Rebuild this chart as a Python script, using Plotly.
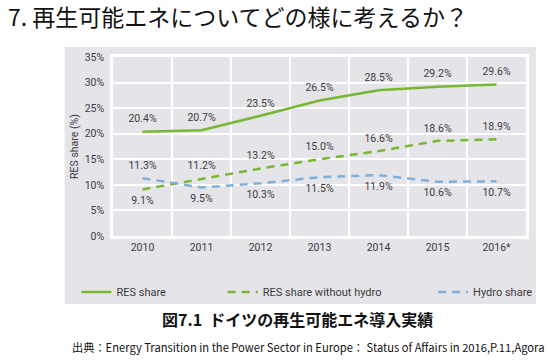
import plotly.graph_objects as go

years = ["2010", "2011", "2012", "2013", "2014", "2015", "2016*"]
res_share = [20.4, 20.7, 23.5, 26.5, 28.5, 29.2, 29.6]
res_wo_hydro = [9.1, 11.2, 13.2, 15.0, 16.6, 18.6, 18.9]
hydro_share = [11.3, 9.5, 10.3, 11.5, 11.9, 10.6, 10.7]
y_ticks = [0, 5, 10, 15, 20, 25, 30, 35]
y_tick_labels = ["0%", "5%", "10%", "15%", "20%", "25%", "30%", "35%"]

W, H = 550, 364
L, R, T, B = 113, 531, 57, 236
PW, PH = R - L, B - T

def px(x):
    return (x - L) / PW

def py(y):
    return (B - y) / PH

GREEN = "#78b72f"
BLUE = "#80b0d9"
TXT = "#3c3c3c"
PANEL = "#e4e4e9"
FONT = "Roboto, 'Noto Sans', sans-serif"

def fmt(v):
    return [f"{x:.1f}%" for x in v]

series = [
    ("RES share", res_share, dict(color=GREEN, width=2.5), ["top center"] * 7, "legend"),
    ("RES share without hydro", res_wo_hydro, dict(color=GREEN, width=2.5, dash="8px,6px"),
     ["bottom center"] + ["top center"] * 6, "legend2"),
    ("Hydro share", hydro_share, dict(color=BLUE, width=2.5, dash="8px,6px"),
     ["top center"] + ["bottom center"] * 6, "legend3"),
]

fig = go.Figure()
for name, vals, line, tpos, leg in series:
    fig.add_trace(go.Scatter(
        x=years, y=vals, mode="lines", name=name, line=line,
        legend=leg, hoverinfo="skip",
    ))
for name, vals, line, tpos, leg in series:
    fig.add_trace(go.Scatter(
        x=years, y=vals, mode="markers+text", name=name + " labels",
        marker=dict(size=9, opacity=0), showlegend=False,
        text=fmt(vals), textposition=tpos,
        textfont=dict(size=10.5, color=TXT, family=FONT), hoverinfo="skip",
    ))

leg_common = dict(orientation="h", yanchor="middle", y=py(292), xanchor="left",
                  bgcolor="rgba(0,0,0,0)", borderwidth=0,
                  font=dict(size=11, color=TXT, family=FONT))

fig.update_layout(
    width=W, height=H,
    margin=dict(l=L, r=W - R, t=T, b=H - B),
    paper_bgcolor="white",
    plot_bgcolor="rgba(0,0,0,0)",
    showlegend=True,
    legend=dict(x=px(76), **leg_common),
    legend2=dict(x=px(224), **leg_common),
    legend3=dict(x=px(437), **leg_common),
    xaxis=dict(type="category", range=[-0.5, 6.5], tickson="boundaries",
               showgrid=True, gridcolor="white", gridwidth=1.5,
               showline=True, linecolor="white", linewidth=2.5, mirror=True,
               ticks="", tickfont=dict(size=10.5, color=TXT, family=FONT),
               fixedrange=True),
    yaxis=dict(range=[0, 35], tickvals=y_ticks, ticktext=y_tick_labels,
               showgrid=True, gridcolor="white", gridwidth=1.5, zeroline=False,
               showline=True, linecolor="white", linewidth=2.5, mirror=True,
               ticks="", ticklabelstandoff=4,
               tickfont=dict(size=10.5, color=TXT, family=FONT),
               title=dict(text="RES share (%)", standoff=4,
                          font=dict(size=10.5, color=TXT, family=FONT)),
               fixedrange=True),
    shapes=[dict(type="rect", xref="paper", yref="paper",
                 x0=px(64), x1=px(541), y0=py(304), y1=py(47),
                 fillcolor=PANEL, line=dict(width=0), layer="below")],
    annotations=[
        dict(text="7. 再生可能エネについてどの様に考えるか？", xref="paper", yref="paper",
             x=px(5), y=py(16), xanchor="left", yanchor="middle", showarrow=False,
             font=dict(size=23, color="#111111", family="'Noto Sans CJK JP', sans-serif")),
        dict(text="<b>図7.1  ドイツの再生可能エネ導入実績</b>", xref="paper", yref="paper",
             x=px(300), y=py(319), xanchor="center", yanchor="middle", showarrow=False,
             font=dict(size=16, color="#111111", family="'Noto Sans CJK JP', sans-serif")),
        dict(text="出典：Energy Transition in the Power Sector in Europe： Status of Affairs in 2016,P.11,Agora",
             xref="paper", yref="paper",
             x=px(69), y=py(347), xanchor="left", yanchor="middle", showarrow=False,
             font=dict(size=11.2, color="#111111", family="'Noto Sans CJK JP', sans-serif")),
    ],
)

fig.write_html("out.html", config={"displayModeBar": False},
               post_script="document.body.style.margin='0';")
